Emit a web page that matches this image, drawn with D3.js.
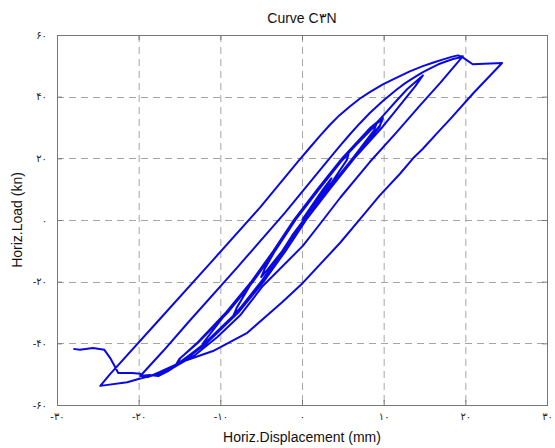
<!DOCTYPE html>
<html>
<head>
<meta charset="utf-8">
<script src="https://cdn.jsdelivr.net/npm/d3@7"></script>
<style>
  body { margin: 0; background: #fff; }
  svg text { font-family: "Liberation Sans", Arial, sans-serif; }
</style>
</head>
<body>
<svg id="chart" width="555" height="448"></svg>
<script>
// Axis ticks and their (Persian-digit) labels
const xTicks = [-30, -20, -10, 0, 10, 20, 30];
const yTicks = [-60, -40, -20, 0, 20, 40, 60];
const xTickLabels = ["-۳۰", "-۲۰", "-۱۰", "۰", "۱۰", "۲۰", "۳۰"];
const yTickLabels = ["-۶۰", "-۴۰", "-۲۰", "۰", "۲۰", "۴۰", "۶۰"];

const titleText = "Curve C۳N";
const xLabelText = "Horiz.Displacement (mm)";
const yLabelText = "Horiz.Load (kn)";

// Recorded load path, [displacement (mm), load (kN)], in test order.
// Small reversed cycles around the origin
const smallCycles = [
  [0, 0], [1.3, 5], [2.6, 10], [3.6, 13.5],
  [3.0, 10.5], [1.6, 5.5], [0.2, 0], [-1.2, -5], [-2.4, -10], [-4.2, -16], [-5.0, -18.5],
  [-4.6, -16], [-3.3, -10], [-0.8, 0], [2.1, 10], [4.6, 18.5], [5.7, 21.5],
  [5.5, 19.5], [3.1, 10], [0.2, 0], [-2.3, -10], [-5.0, -20], [-7.4, -28], [-8.4, -31],
  [-8.0, -28.5], [-6.1, -20], [-3.4, -10], [-0.9, 0], [2.0, 10], [5.0, 20], [8.0, 28], [9.1, 31],
  [8.8, 29], [6.2, 20], [3.2, 10], [0.3, 0], [-2.2, -10], [-4.9, -20], [-8.0, -30], [-11.2, -38.5], [-12.4, -41.5],
  [-12.0, -39.5], [-9.2, -30], [-6.1, -20], [-3.4, -10], [-0.9, 0], [2.0, 10], [5.0, 20], [8.5, 30], [9.9, 32.8],
  [9.5, 30.5], [6.3, 20], [3.3, 10], [0.4, 0], [-2.1, -10], [-4.8, -20], [-7.9, -30], [-11.8, -40], [-14.4, -45], [-15.3, -46.8],
  [-14.9, -44.8], [-12.9, -40], [-9.3, -30], [-6.2, -20], [-3.5, -10], [-1.0, 0], [1.9, 10], [4.9, 20], [8.4, 30], [9.9, 33.2],
  [9.5, 30.2], [6.2, 20], [3.2, 10], [0.3, 0], [-2.2, -10], [-4.9, -20], [-8.0, -30], [-11.9, -40], [-14.6, -45.5], [-15.5, -47.2]
];

// Cycle to +15 mm, then down to the -20 mm peak
const cycle15 = [
  [-15.0, -45], [-12.8, -40], [-9.1, -30], [-6.0, -20], [-3.3, -10], [-0.8, 0], [2.1, 10], [5.1, 20],
  [8.6, 30], [10.0, 34], [11.4, 38.2], [12.9, 42.5], [14.8, 46.9],
  [13.9, 43.5], [11.4, 35.2], [9.8, 30], [6.4, 20], [3.4, 10], [0.5, 0], [-2.0, -10], [-4.7, -20],
  [-7.8, -30], [-11.7, -40], [-14.4, -45.5], [-16.4, -49], [-17.6, -50.6], [-18.7, -50.3], [-19.8, -50.6]
];

// From -20 mm up to the +20 mm peak and back down to -25 mm
const cycle20 = [
  [-17.0, -42.5], [-14.0, -33.4], [-8.0, -15.6], [-2.1, 2.3], [3.4, 20.1], [4.7, 24.2], [5.9, 27.9],
  [7.1, 31.4], [8.3, 34.7], [9.9, 38.6], [11.6, 42.3], [12.6, 44.3], [13.6, 46.0], [14.7, 47.8],
  [15.7, 49.2], [16.7, 50.5], [17.7, 51.5], [18.5, 52.2], [19.3, 52.7], [19.7, 53.1],
  [19.4, 52.2], [16.9, 44.4], [14.4, 37.0], [11.6, 28.5], [8.3, 18.8], [4.7, 7.3], [2.2, -1.3], [0.1, -8.4],
  [-4.8, -21.4], [-7.6, -31.0], [-10.4, -38.0], [-13.2, -44.0], [-15.5, -47.5], [-17.7, -50.0],
  [-19.8, -51.4], [-21.4, -52.6], [-24.7, -53.8]
];

// From -25 mm up past +20 mm to +24.5 mm
const cycle25 = [
  [-23.5, -50], [-17.4, -32.1], [-10.9, -13.0], [-5.1, 4.2], [-0.5, 18.9], [1.0, 23.6], [2.2, 27.3],
  [3.4, 30.8], [4.6, 34.0], [5.9, 36.9], [7.1, 39.4], [8.3, 41.5], [9.9, 44.0], [11.6, 46.2],
  [13.2, 48.2], [14.8, 49.9], [16.1, 51.1], [17.3, 52.1], [18.3, 52.9], [19.1, 53.4], [19.6, 52.9],
  [20.9, 50.5], [24.5, 50.9]
];

// Final unloading to the negative side
const finalBranch = [
  [21.0, 41.2], [18.2, 32.9], [16.8, 28.9], [14.8, 23.1], [13.6, 20.0], [12.0, 15.0], [9.5, 7.9], [7.1, 0.3],
  [4.7, -7.3], [0.1, -20.4], [-2.4, -26.6], [-6.7, -36.6], [-10.9, -42.5], [-14.6, -45.9], [-17.4, -49.3],
  [-18.8, -50.9], [-19.5, -50.9], [-19.8, -49.9], [-20.8, -49.6], [-22.5, -49.6], [-22.9, -47.6],
  [-23.5, -44.7], [-24.2, -42.1], [-25.6, -41.5], [-27.2, -42.1], [-28.0, -41.8]
];

const loadPath = [].concat(smallCycles, cycle15, cycle20, cycle25, finalBranch);

const svg = d3.select("#chart");
const plot = { left: 57, right: 547, top: 35, bottom: 405 };

const x = d3.scaleLinear().domain([-30, 30]).range([plot.left, plot.right]);
const y = d3.scaleLinear().domain([-60, 60]).range([plot.bottom, plot.top]);

// Dashed grid
const grid = svg.append("g").attr("stroke", "#a6a6a6").attr("stroke-width", 1)
  .attr("stroke-dasharray", "7,5");
grid.selectAll("line.vx").data(xTicks.slice(1, -1)).join("line")
  .attr("x1", d => x(d) + 0.5).attr("x2", d => x(d) + 0.5)
  .attr("y1", plot.top).attr("y2", plot.bottom);
grid.selectAll("line.hy").data(yTicks.slice(1, -1)).join("line")
  .attr("y1", d => Math.round(y(d)) + 0.5).attr("y2", d => Math.round(y(d)) + 0.5)
  .attr("x1", plot.left).attr("x2", plot.right);

// Axes with inward ticks
const fmtX = d => xTickLabels[xTicks.indexOf(d)];
const fmtY = d => yTickLabels[yTicks.indexOf(d)];

const axisStyle = g => {
  g.select(".domain").remove();
  g.selectAll(".tick line").attr("stroke", "#777");
  g.selectAll(".tick text").attr("fill", "#222")
    .style("font-family", "'DejaVu Sans', sans-serif").style("font-size", "10px");
};

svg.append("g").attr("transform", `translate(0,${plot.bottom})`)
  .call(d3.axisBottom(x).tickValues(xTicks).tickFormat(fmtX).tickSize(-5).tickPadding(8))
  .call(axisStyle);
svg.append("g").attr("transform", `translate(${plot.left},0)`)
  .call(d3.axisLeft(y).tickValues(yTicks).tickFormat(fmtY).tickSize(-5).tickPadding(10))
  .call(axisStyle);
svg.append("g").attr("transform", `translate(0,${plot.top})`)
  .call(d3.axisTop(x).tickValues(xTicks).tickFormat("").tickSize(-5))
  .call(axisStyle);
svg.append("g").attr("transform", `translate(${plot.right},0)`)
  .call(d3.axisRight(y).tickValues(yTicks).tickFormat("").tickSize(-5))
  .call(axisStyle);

// Plot frame
svg.append("rect")
  .attr("x", plot.left + 0.5).attr("y", plot.top + 0.5)
  .attr("width", plot.right - plot.left).attr("height", plot.bottom - plot.top)
  .attr("fill", "none").attr("stroke", "#777").attr("stroke-width", 1);

// Hysteresis curve
const line = d3.line()
  .x(d => x(d[0])).y(d => y(d[1]));

svg.append("path")
  .datum(loadPath)
  .attr("d", line)
  .attr("fill", "none")
  .attr("stroke", "#0a0ae0")
  .attr("stroke-width", 2)
  .attr("stroke-linejoin", "round");

// Title and axis labels
svg.append("text").attr("x", (plot.left + plot.right) / 2).attr("y", 23)
  .attr("text-anchor", "middle").attr("fill", "#111").style("font-size", "14px")
  .text(titleText);
svg.append("text").attr("x", (plot.left + plot.right) / 2).attr("y", 442)
  .attr("text-anchor", "middle").attr("fill", "#111").style("font-size", "14px")
  .text(xLabelText);
svg.append("text").attr("transform", `translate(22,${(plot.top + plot.bottom) / 2}) rotate(-90)`)
  .attr("text-anchor", "middle").attr("fill", "#111").style("font-size", "14px")
  .text(yLabelText);
</script>
</body>
</html>
